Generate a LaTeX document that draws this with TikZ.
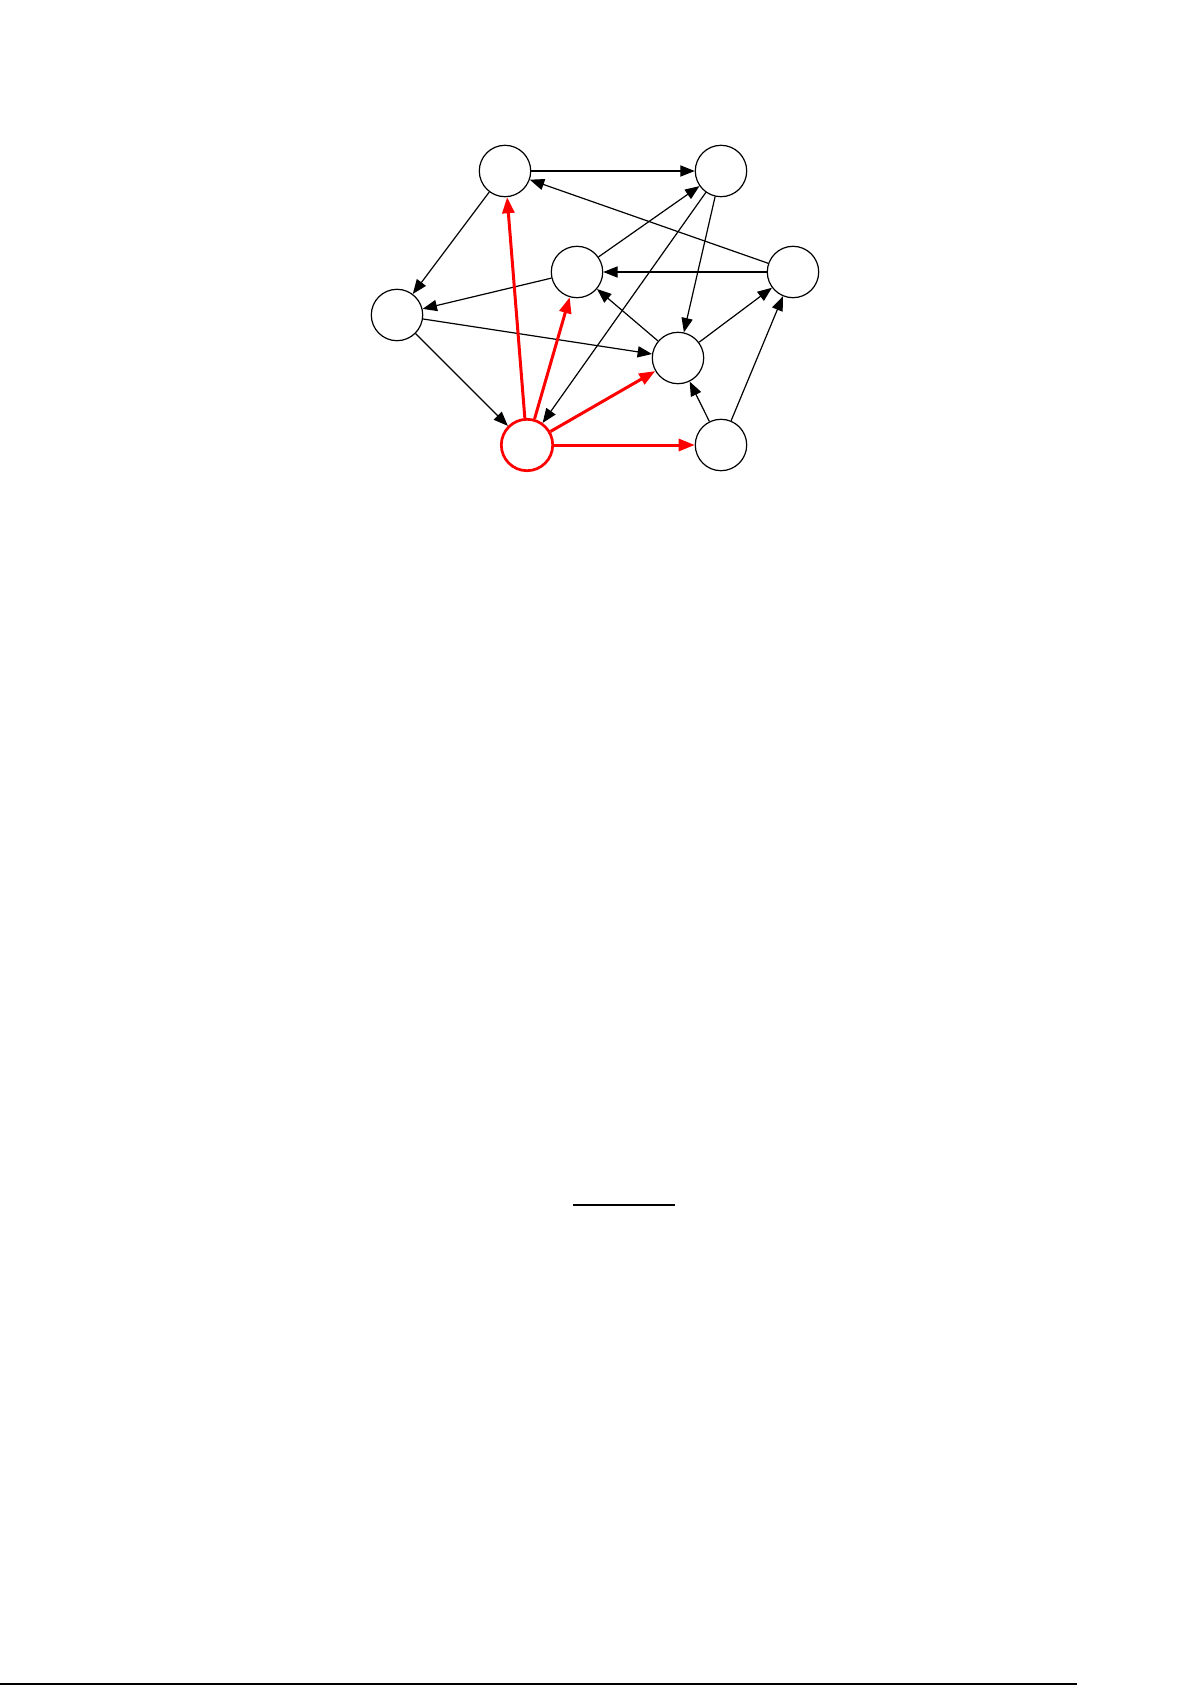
\documentclass[tikz,border=0pt]{standalone}
\usepackage{amsmath}
\usepackage{tikz}
\usetikzlibrary{automata,arrows.meta}

\begin{document}
\begin{tikzpicture}[x=0.5pt,y=-0.5pt,->,>={Triangle[length=7.2pt,width=5.6pt]},
        every state/.style={draw,minimum size=25.7pt,inner sep=0pt,line width=0.6pt},
        every edge/.style={draw,line width=0.6pt},
        sorgente/.style={draw=red,line width=1.35pt},
        rosso/.style={draw=red,line width=1.5pt,>={Triangle[length=8pt,width=6pt]}}]
        \useasboundingbox (0,0) rectangle (1192,1685);
        % nodi
        \node[state] (A) at (505,171)  {};
        \node[state] (B) at (721,171)  {};
        \node[state] (C) at (577,272)  {};
        \node[state] (D) at (793,272)  {};
        \node[state] (E) at (397,315)  {};
        \node[state] (F) at (678,358)  {};
        \node[state,sorgente] (G) at (527,445) {};
        \node[state] (H) at (721,445)  {};
        % archi
        \path
            (A) edge (B)
                edge (E)
            (B) edge (G)
                edge (F)
            (C) edge (B)
                edge (E)
            (D) edge (A)
                edge (C)
            (E) edge (F)
                edge (G)
            (F) edge (C)
                edge (D)
            (H) edge (F)
                edge (D);
        \path
            (G) edge[rosso] (A)
                edge[rosso] (C)
                edge[rosso] (F)
                edge[rosso] (H);
        % linee
        \coordinate (l1) at (573,1205);
        \coordinate (l2) at (675,1205);
        \coordinate (p1) at (0,1684);
        \coordinate (p2) at (1077,1684);
        \draw[-,line width=0.6pt] (l1) -- (l2);
        \draw[-,line width=0.6pt] (p1) -- (p2);
\end{tikzpicture}
\end{document}
